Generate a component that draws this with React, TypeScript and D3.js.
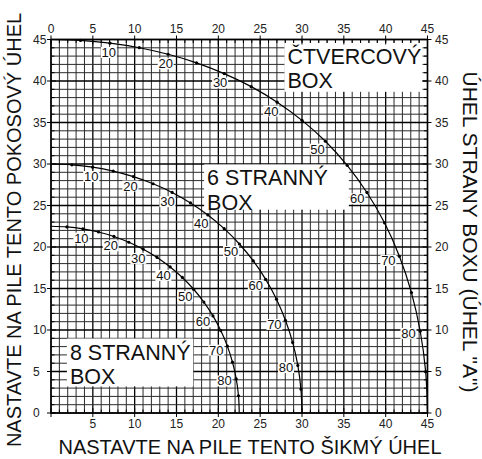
import React from "react";
import * as d3 from "d3";

// side angle of the box (degrees), one point every 5
const sideAngles = [0, 5, 10, 15, 20, 25, 30, 35, 40, 45, 50, 55, 60, 65, 70, 75, 80, 85, 90];

// ČTVERCOVÝ BOX (4 sides)
const squareBevel = [0, 3.53, 7.05, 10.55, 14.0, 17.39, 20.7, 23.93, 27.03, 30.0, 32.8, 35.4, 37.76, 39.86, 41.64, 43.08, 44.13, 44.78, 45];
const squareMiter = [45, 44.89, 44.56, 44.01, 43.22, 42.19, 40.89, 39.32, 37.45, 35.26, 32.74, 29.84, 26.57, 22.91, 18.88, 14.51, 9.85, 4.98, 0];

// 6 STRANNÝ BOX
const hexBevel = [0, 2.5, 4.98, 7.44, 9.85, 12.2, 14.48, 16.67, 18.75, 20.7, 22.52, 24.18, 25.66, 26.95, 28.02, 28.88, 29.5, 29.87, 30];
const hexMiter = [30, 29.9, 29.62, 29.15, 28.48, 27.62, 26.57, 25.31, 23.86, 22.21, 20.36, 18.32, 16.1, 13.71, 11.17, 8.5, 5.73, 2.88, 0];

// 8 STRANNÝ BOX
const octBevel = [0, 1.91, 3.81, 5.68, 7.52, 9.31, 11.03, 12.68, 14.24, 15.7, 17.05, 18.27, 19.36, 20.29, 21.08, 21.69, 22.14, 22.41, 22.5];
const octMiter = [22.5, 22.42, 22.19, 21.81, 21.27, 20.57, 19.73, 18.74, 17.6, 16.33, 14.91, 13.36, 11.7, 9.93, 8.06, 6.12, 4.11, 2.07, 0];

const curveLabels = [10, 20, 30, 40, 50, 60, 70, 80];
const axisTicks = [0, 5, 10, 15, 20, 25, 30, 35, 40, 45];
const bottomTicks = [5, 10, 15, 20, 25, 30, 35, 40, 45];

const boxes = [
  { lines: ["ČTVERCOVÝ", "BOX"], x0: 27.9, x1: 44.4, y0: 38.7, y1: 44.6 },
  { lines: ["6 STRANNÝ", "BOX"], x0: 18.3, x1: 35.6, y0: 24.5, y1: 29.95 },
  { lines: ["8 STRANNÝ", "BOX"], x0: 1.9, x1: 17.0, y0: 3.2, y1: 8.97 },
];

const series = [
  { bevel: squareBevel, miter: squareMiter },
  { bevel: hexBevel, miter: hexMiter },
  { bevel: octBevel, miter: octMiter },
];

const W = 482;
const H = 459;
const font = "'Liberation Sans', Arial, sans-serif";

export default function App() {
  const x = d3.scaleLinear().domain([0, 45]).range([51, 427.5]);
  const y = d3.scaleLinear().domain([0, 45]).range([413, 39.5]);
  const units = d3.range(0, 46);

  const line = d3
    .line<[number, number]>()
    .x((d) => x(d[0]))
    .y((d) => y(d[1]))
    .curve(d3.curveCatmullRom.alpha(0.5));

  return (
    <svg
      width={W}
      height={H}
      style={{ position: "absolute", left: 0, top: 0, background: "#fff" }}
      fontFamily={font}
    >
      {/* grid */}
      <g>
        {units.map((u) => (
          <line
            key={"v" + u}
            x1={x(u)}
            x2={x(u)}
            y1={y(0)}
            y2={y(45)}
            stroke={u % 5 === 0 ? "#000" : "#2a2a2a"}
            strokeWidth={u % 5 === 0 ? 1.3 : 1}
          />
        ))}
        {units.map((u) => (
          <line
            key={"h" + u}
            y1={y(u)}
            y2={y(u)}
            x1={x(0)}
            x2={x(45)}
            stroke={u % 5 === 0 ? "#000" : "#2a2a2a"}
            strokeWidth={u % 5 === 0 ? 1.3 : 1}
          />
        ))}
      </g>

      {/* label boxes */}
      {boxes.map((b, i) => (
        <g key={"box" + i}>
          <rect x={x(b.x0)} y={y(b.y1)} width={x(b.x1) - x(b.x0)} height={y(b.y0) - y(b.y1)} fill="#fff" />
          {b.lines.map((t, j) => (
            <text
              key={j}
              x={x(b.x0) + 3}
              y={y(b.y1) + 21 + j * 24.5}
              fontSize={21.5}
              fill="#111"
            >
              {t}
            </text>
          ))}
        </g>
      ))}

      {/* curves */}
      {series.map((s, si) => {
        const pts: [number, number][] = s.bevel.map((b, i) => [b, s.miter[i]]);
        return (
          <g key={"s" + si}>
            <path d={line(pts) || ""} fill="none" stroke="#000" strokeWidth={1.2} />
            {pts.map((p, i) =>
              sideAngles[i] % 5 === 0 && i > 0 && i < pts.length - 1 ? (
                <circle key={i} cx={x(p[0])} cy={y(p[1])} r={1.6} fill="#000" />
              ) : null
            )}
            {curveLabels.map((a) => {
              const i = sideAngles.indexOf(a);
              const p0 = pts[i - 1];
              const p1 = pts[i + 1];
              let tx = x(p1[0]) - x(p0[0]);
              let ty = y(p1[1]) - y(p0[1]);
              const len = Math.hypot(tx, ty);
              tx /= len;
              ty /= len;
              const nx = -ty;
              const ny = tx;
              const off = 9 + 3 * Math.abs(nx);
              const cx = x(pts[i][0]) + nx * off;
              const cy = y(pts[i][1]) + ny * off;
              return (
                <g key={"l" + a}>
                  <rect x={cx - 8} y={cy - 5.5} width={16} height={11} fill="#fff" />
                  <text x={cx} y={cy + 4.5} textAnchor="middle" fontSize={13} fill="#111">
                    {a}
                  </text>
                </g>
              );
            })}
          </g>
        );
      })}

      {/* axes frame */}
      <rect x={x(0)} y={y(45)} width={x(45) - x(0)} height={y(0) - y(45)} fill="none" stroke="#000" strokeWidth={1.4} />

      {/* ticks: minor inside, major crossing */}
      {units.map((u) => {
        const major = u % 5 === 0;
        const inner = major ? 5 : 3.5;
        const outer = major ? 4 : 0;
        return (
          <g key={"t" + u} stroke="#000" strokeWidth={1}>
            <line x1={x(u)} x2={x(u)} y1={y(45) - outer} y2={y(45) + inner} />
            <line x1={x(u)} x2={x(u)} y1={y(0) + outer} y2={y(0) - inner} />
            <line y1={y(u)} y2={y(u)} x1={x(0) - outer} x2={x(0) + inner} />
            <line y1={y(u)} y2={y(u)} x1={x(45) + outer} x2={x(45) - inner} />
          </g>
        );
      })}

      {/* tick labels */}
      <g fontSize={12} fill="#222">
        {axisTicks.map((t) => (
          <text key={"top" + t} x={x(t)} y={33} textAnchor="middle">
            {t}
          </text>
        ))}
        {bottomTicks.map((t) => (
          <text key={"bot" + t} x={x(t)} y={428} textAnchor="middle">
            {t}
          </text>
        ))}
        {axisTicks.map((t) => (
          <text key={"left" + t} x={33} y={y(t) + 4.3}>
            {t}
          </text>
        ))}
        {axisTicks.map((t) => (
          <text key={"right" + t} x={435} y={y(t) + 4.3}>
            {t}
          </text>
        ))}
      </g>

      {/* axis titles */}
      <text x={250} y={454} textAnchor="middle" fontSize={20} fill="#111">
        NASTAVTE NA PILE TENTO ŠIKMÝ ÚHEL
      </text>
      <text
        transform="translate(20.5,230) rotate(-90)"
        textAnchor="middle"
        fontSize={20}
        fill="#111"
      >
        NASTAVTE NA PILE TENTO POKOSOVÝ ÚHEL
      </text>
      <text transform="translate(463,232) rotate(90)" textAnchor="middle" fontSize={21} fill="#111">
        ÚHEL STRANY BOXU (ÚHEL "A")
      </text>
    </svg>
  );
}
